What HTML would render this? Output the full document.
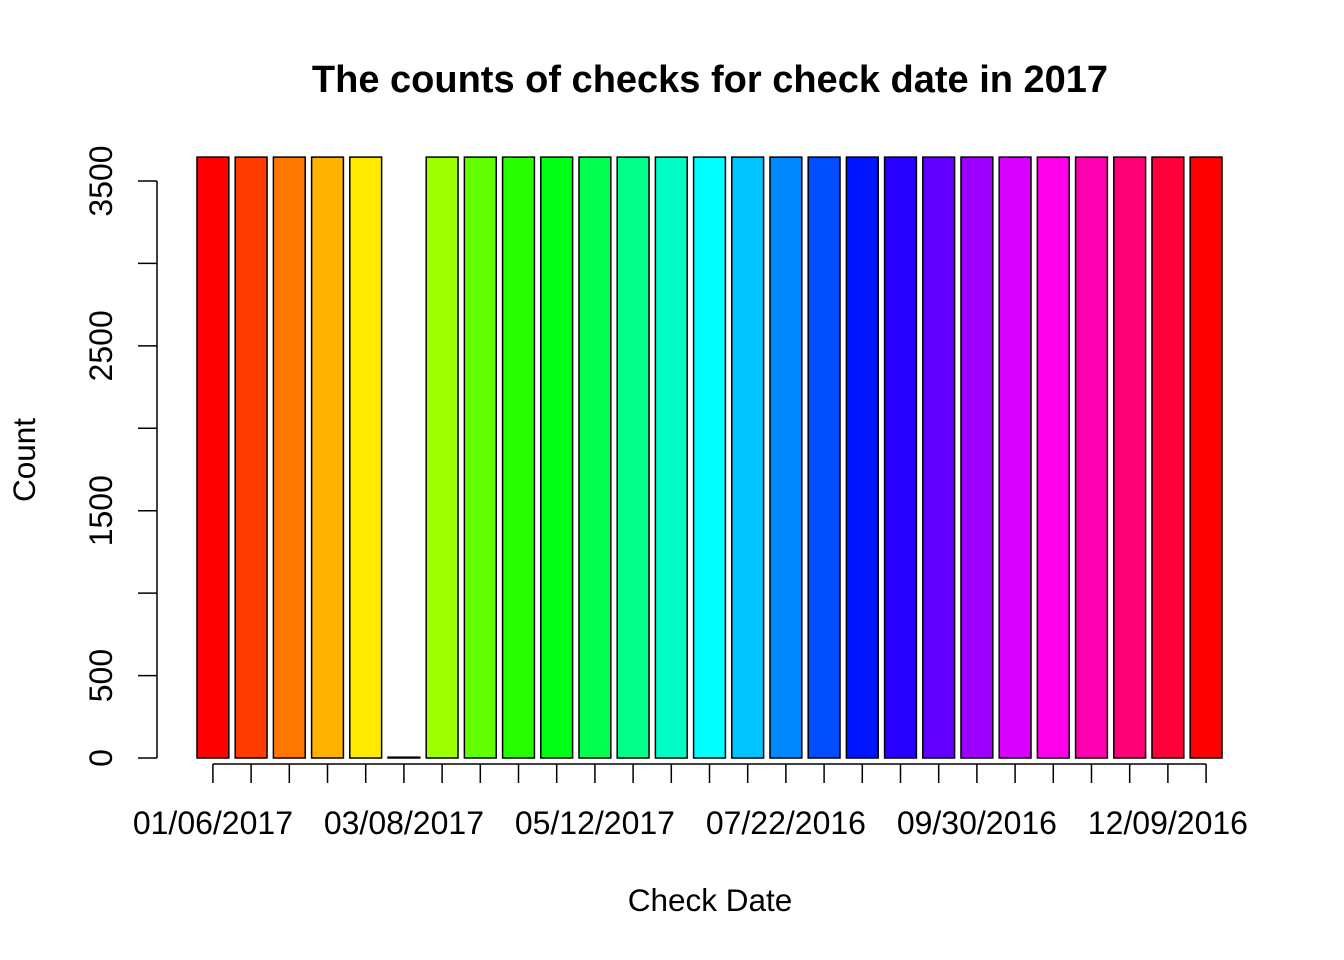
<!DOCTYPE html>
<html><head><meta charset="utf-8"><style>
html,body{margin:0;padding:0;background:#fff;}
svg{display:block;font-family:"Liberation Sans",Arial,sans-serif;}
</style></head><body>
<svg id="chart" width="1344" height="960" viewBox="0 0 1344 960" xmlns="http://www.w3.org/2000/svg">
<text x="710" y="92" text-anchor="middle" font-size="38" font-weight="bold">The counts of checks for check date in 2017</text>
<text x="710" y="911" text-anchor="middle" font-size="31.5">Check Date</text>
<text transform="translate(35,460) rotate(-90)" text-anchor="middle" font-size="31.5">Count</text>
<g id="bars"></g><g id="axes"></g>
</svg>
<script>
const categories = ["01/06/2017","b1","b2","b3","b4","03/08/2017","b6","b7","b8","b9","05/12/2017","b11","b12","b13","b14","07/22/2016","b16","b17","b18","b19","09/30/2016","b21","b22","b23","b24","12/09/2016","b26"];
const values = [3645,3645,3645,3645,3645,5,3645,3645,3645,3645,3645,3645,3645,3645,3645,3645,3645,3645,3645,3645,3645,3645,3645,3645,3645,3645,3645];
const yTicks = [0,500,1000,1500,2000,2500,3000,3500];
const yTickLabels = ["0","500","","1500","","2500","","3500"];
const xLabelEvery = 5;
const nColors = 26;

const NS="http://www.w3.org/2000/svg";
const x0=197, pxPerUnit=(1222-197)/32.2;
function xs(u){return x0+(u-0.2)*pxPerUnit;}
function ys(v){return 758-v*(758-181)/3500;}
function mk(tag,attrs,parent){const e=document.createElementNS(NS,tag);for(const k in attrs)e.setAttribute(k,attrs[k]);parent.appendChild(e);return e;}
const bars=document.getElementById('bars'), axes=document.getElementById('axes');
const n=values.length;
values.forEach((v,i)=>{
  const l=xs(0.2+1.2*i), r=xs(1.2+1.2*i);
  const color = i===5 ? '#ffffff' : `hsl(${360*(i%nColors)/nColors},100%,50%)`;
  const el=mk('rect',{x:l,y:ys(v),width:r-l,height:ys(0)-ys(v),fill:color,stroke:'#000','stroke-width':1.5},bars);
  
  
});
const c0=xs(0.7), cN=xs(0.7+1.2*(n-1));
const xl=mk('line',{x1:c0,x2:cN,y1:764,y2:764,stroke:'#000','stroke-width':1.5},axes);


categories.forEach((c,i)=>{
  const cx=xs(0.7+1.2*i);
  const t=mk('line',{x1:cx,x2:cx,y1:764,y2:783,stroke:'#000','stroke-width':1.5},axes);
  
  
  if(i%xLabelEvery===0){
    const tx=mk('text',{x:cx,y:834,'text-anchor':'middle','font-size':32},axes);
    tx.textContent=c;
    
    
  }
});
const yl=mk('line',{x1:157,x2:157,y1:ys(yTicks[yTicks.length-1]),y2:ys(0),stroke:'#000','stroke-width':1.5},axes);


yTicks.forEach((v,i)=>{
  const y=ys(v);
  const t=mk('line',{x1:138,x2:157,y1:y,y2:y,stroke:'#000','stroke-width':1.5},axes);
  
  
  if(yTickLabels[i]){
    const tx=mk('text',{transform:`translate(112,${y}) rotate(-90)`,'text-anchor':'middle','font-size':32},axes);
    tx.textContent=yTickLabels[i];
    
    
  }
});
</script>
</body></html>
